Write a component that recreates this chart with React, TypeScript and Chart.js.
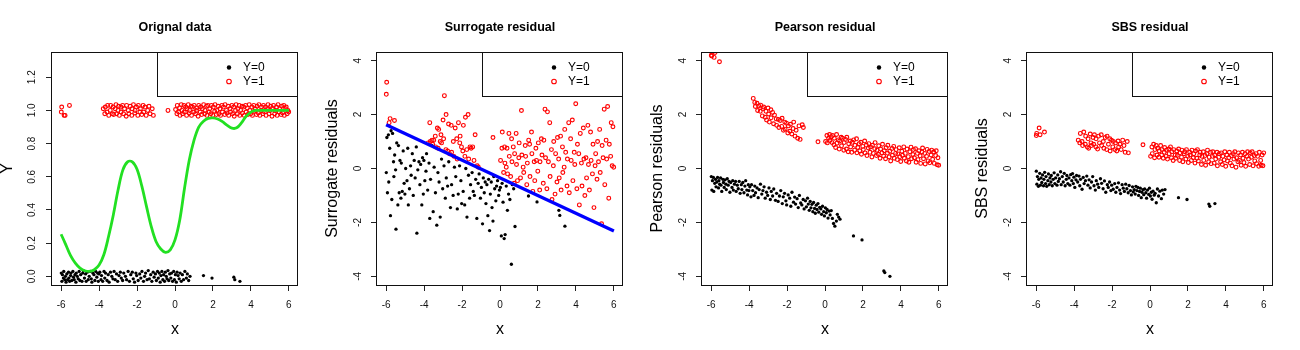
import React, { useEffect, useRef } from "react";
import { Chart, registerables } from "chart.js";

Chart.register(...registerables);

const FONT = '"Liberation Sans", Arial, Helvetica, sans-serif';

// ---------- labels / ticks ----------
const panelTitles = ["Orignal data", "Surrogate residual", "Pearson residual", "SBS residual"];
const yAxisLabels = ["Y", "Surrogate residuals", "Pearson residuals", "SBS residuals"];
const xAxisLabel = "x";
const legendLabels = ["Y=0", "Y=1"];
const xTicks = [-6, -4, -2, 0, 2, 4, 6];
const probTicks = [0, 0.2, 0.4, 0.6, 0.8, 1.0, 1.2];
const residTicks = [-4, -2, 0, 2, 4];

// ---------- observations with Y=0 (x values shared by all panels) ----------
const x0 = [
  -5.99, -5.96, -5.93, -5.88, -5.86, -5.81, -5.77, -5.74, -5.7, -5.66,
  -5.61, -5.59, -5.55, -5.5, -5.48, -5.44, -5.38, -5.35, -5.31, -5.27,
  -5.22, -5.2, -5.15, -5.1, -5.05, -5.01, -4.97, -4.9, -4.86, -4.83,
  -4.77, -4.71, -4.68, -4.62, -4.57, -4.52, -4.47, -4.41, -4.38, -4.33,
  -4.27, -4.22, -4.18, -4.12, -4.08, -4.04, -4.01, -3.96, -3.9, -3.87,
  -3.81, -3.74, -3.7, -3.66, -3.58, -3.52, -3.47, -3.4, -3.33, -3.27,
  -3.21, -3.15, -3.08, -3.02, -2.95, -2.88, -2.83, -2.76, -2.7, -2.61,
  -2.55, -2.47, -2.4, -2.33, -2.25, -2.2, -2.13, -2.06, -2.02, -1.94,
  -1.86, -1.8, -1.74, -1.66, -1.6, -1.55, -1.47, -1.41, -1.35, -1.28,
  -1.22, -1.15, -1.1, -1.03, -0.98, -0.92, -0.88, -0.83, -0.78, -0.74,
  -0.69, -0.64, -0.6, -0.55, -0.51, -0.46, -0.42, -0.37, -0.33, -0.28,
  -0.22, -0.18, -0.13, -0.07, -0.03, 0.02, 0.07, 0.11, 0.16, 0.22,
  0.27, 0.33, 0.39, 0.45, 0.52, 0.6, 0.65, 0.72, 0.79, 1.5,
  1.95, 3.1, 3.15, 3.42,
];
const orig0 = [
  0.02, -0.03, 0.01, -0.01, 0.03, -0.02, 0.0, -0.035, 0.015, -0.02,
  0.025, -0.01, -0.03, 0.005, 0.02, -0.025, 0.03, -0.005, -0.02, 0.01,
  -0.035, 0.02, 0.0, -0.015, 0.03, -0.025, 0.01, -0.03, 0.02, 0.035,
  -0.01, 0.015, -0.03, 0.025, -0.02, 0.0, 0.03, -0.015, -0.035, 0.02,
  0.01, -0.025, 0.03, -0.005, 0.02, -0.03, 0.015, 0.025, -0.02, 0.005,
  -0.03, 0.03, -0.01, 0.02, -0.025, 0.01, -0.035, 0.025, 0.0, -0.015,
  0.03, -0.02, 0.015, -0.03, 0.005, 0.025, -0.01, -0.025, 0.02, 0.0,
  -0.02, 0.03, -0.03, 0.01, 0.025, -0.015, -0.035, 0.02, 0.005, -0.025,
  0.015, -0.01, 0.03, -0.03, 0.0, 0.02, -0.02, 0.035, -0.015, 0.01,
  -0.03, 0.025, -0.005, 0.015, -0.025, 0.03, -0.01, 0.02, -0.035, 0.005,
  0.03, -0.02, 0.01, -0.03, 0.025, 0.0, -0.015, 0.035, -0.025, 0.015,
  -0.01, 0.02, -0.03, 0.03, -0.02, 0.01, -0.035, 0.025, 0.005, -0.015,
  0.02, -0.03, 0.01, -0.02, 0.03, -0.01, 0.015, -0.025, 0.0, 0.005,
  -0.01, -0.005, -0.02, -0.03,
];
const surr0 = [
  -0.15, 1.15, -0.9, 1.25, -0.5, 0.75, -1.75, 1.4, -1.15, 1.3,
  0.25, -0.3, 0.5, -0.05, -2.25, 0.95, -1.35, 0.85, -0.9, 0.3,
  -1.1, 0.2, -0.85, 0.65, -0.55, -0.95, 0.0, -0.45, 0.75, -1.35,
  -0.75, 0.1, -0.25, 0.55, -1.0, 0.3, -0.35, 0.8, -2.4, -0.05,
  0.25, -0.6, 0.15, -1.35, 0.4, -0.95, 0.3, -0.45, -0.1, 0.55,
  -0.8, 0.2, -1.85, -0.4, 0.85, -1.6, 0.05, -0.9, -2.1, -0.15,
  -0.5, -1.8, 0.35, -0.75, 0.1, -1.1, -0.35, -0.65, 0.25, -1.45,
  -0.6, -1.0, 0.05, -0.3, -1.5, -0.95, 0.1, -0.45, -1.3, -0.85,
  -1.35, 0.0, -1.8, -0.25, -1.1, -0.6, -0.15, -0.85, -1.0, -0.4,
  -1.85, -0.55, -0.2, -1.1, -0.7, -2.05, -0.35, -0.9, -0.5, -1.3,
  -0.6, -1.75, -0.4, -2.3, -0.95, -0.5, -1.45, -1.95, -0.3, -0.75,
  -1.2, -0.65, -0.45, -1.0, -0.8, -0.7, -2.5, -0.55, -1.25, -2.6,
  -2.45, -0.65, -1.55, -0.95, -1.15, -3.55, -0.6, -0.75, -2.15, -1.02,
  -1.24, -1.55, -1.74, -2.14,
];
const pear0 = [
  -0.3, -0.8, -0.45, -0.33, -0.85, -0.55, -0.4, -0.68, -0.5, -0.33,
  -0.72, -0.45, -0.58, -0.35, -0.62, -0.85, -0.4, -0.52, -0.7, -0.42,
  -0.58, -0.78, -0.38, -0.62, -0.48, -0.88, -0.52, -0.7, -0.45, -0.8,
  -0.58, -0.48, -0.85, -0.62, -0.75, -0.48, -0.92, -0.6, -0.78, -0.52,
  -0.9, -0.65, -0.45, -0.8, -0.98, -0.6, -0.82, -0.68, -1.05, -0.6,
  -0.82, -1.0, -0.65, -0.9, -0.72, -1.08, -0.78, -0.58, -0.95, -0.82,
  -0.68, -1.1, -0.88, -1.0, -0.72, -1.15, -0.85, -1.02, -0.76, -1.18,
  -0.92, -1.22, -1.02, -0.82, -1.3, -1.05, -0.92, -1.2, -1.35, -0.98,
  -1.1, -1.4, -0.88, -1.25, -1.06, -1.32, -1.12, -1.45, -1.0, -1.28,
  -1.35, -1.15, -1.5, -1.2, -1.42, -1.1, -1.32, -1.55, -1.22, -1.46,
  -1.33, -1.6, -1.26, -1.48, -1.66, -1.36, -1.52, -1.3, -1.62, -1.44,
  -1.5, -1.7, -1.4, -1.6, -1.76, -1.46, -1.64, -1.52, -1.84, -1.58,
  -1.72, -1.56, -1.85, -2.04, -2.14, -1.95, -1.7, -1.8, -1.88, -2.5,
  -2.65, -3.8, -3.86, -4.0,
];
const sbs0 = [
  -0.1, -0.58, -0.3, -0.66, -0.4, -0.18, -0.62, -0.35, -0.52, -0.24,
  -0.64, -0.4, -0.14, -0.56, -0.3, -0.66, -0.45, -0.2, -0.6, -0.35,
  -0.5, -0.26, -0.64, -0.4, -0.16, -0.56, -0.35, -0.62, -0.24, -0.48,
  -0.38, -0.12, -0.6, -0.3, -0.5, -0.18, -0.64, -0.4, -0.26, -0.56,
  -0.35, -0.62, -0.23, -0.45, -0.19, -0.56, -0.32, -0.7, -0.42, -0.26,
  -0.5, -0.28, -0.64, -0.4, -0.77, -0.33, -0.56, -0.45, -0.28, -0.62,
  -0.42, -0.72, -0.5, -0.3, -0.64, -0.8, -0.45, -0.58, -0.7, -0.38,
  -0.55, -0.75, -0.46, -0.88, -0.6, -0.7, -0.5, -0.82, -0.62, -0.77,
  -0.56, -0.88, -0.7, -0.53, -0.8, -0.93, -0.6, -0.73, -0.85, -0.58,
  -0.75, -0.9, -0.63, -0.82, -0.98, -0.68, -0.87, -0.78, -0.95, -0.66,
  -0.82, -0.7, -1.0, -0.85, -0.73, -1.08, -0.88, -0.78, -0.97, -0.76,
  -0.9, -1.1, -0.8, -0.96, -0.73, -1.02, -0.88, -1.14, -0.84, -0.99,
  -0.92, -1.27, -0.76, -1.02, -0.84, -1.12, -0.8, -0.95, -0.78, -1.08,
  -1.15, -1.32, -1.4, -1.3,
];

// ---------- observations with Y=1 ----------
const x1 = [
  -5.97, -5.84, -5.79, -5.56, -3.78, -3.7, -3.67, -3.58, -3.55, -3.49,
  -3.41, -3.39, -3.3, -3.26, -3.23, -3.15, -3.11, -3.08, -3.0, -2.97,
  -2.93, -2.85, -2.84, -2.76, -2.71, -2.66, -2.57, -2.55, -2.46, -2.43,
  -2.36, -2.28, -2.26, -2.19, -2.12, -2.1, -2.03, -1.96, -1.93, -1.85,
  -1.82, -1.75, -1.68, -1.65, -1.58, -1.52, -1.44, -1.37, -1.31, -1.2,
  -1.14, -0.37, 0.03, 0.1, 0.12, 0.19, 0.24, 0.26, 0.33, 0.37,
  0.4, 0.47, 0.49, 0.56, 0.61, 0.63, 0.7, 0.75, 0.77, 0.85,
  0.87, 0.92, 0.99, 1.01, 1.08, 1.13, 1.15, 1.22, 1.25, 1.33,
  1.35, 1.41, 1.44, 1.51, 1.56, 1.58, 1.66, 1.68, 1.73, 1.8,
  1.83, 1.89, 1.92, 1.99, 2.02, 2.09, 2.11, 2.18, 2.21, 2.28,
  2.31, 2.37, 2.4, 2.47, 2.5, 2.55, 2.62, 2.64, 2.71, 2.74,
  2.81, 2.83, 2.9, 2.93, 3.0, 3.03, 3.09, 3.12, 3.19, 3.22,
  3.29, 3.31, 3.38, 3.41, 3.46, 3.53, 3.55, 3.62, 3.65, 3.72,
  3.75, 3.81, 3.84, 3.91, 3.94, 3.99, 4.05, 4.08, 4.15, 4.18,
  4.23, 4.29, 4.32, 4.39, 4.42, 4.47, 4.53, 4.56, 4.63, 4.66,
  4.71, 4.77, 4.8, 4.87, 4.9, 4.95, 5.01, 5.04, 5.11, 5.14,
  5.19, 5.25, 5.28, 5.35, 5.38, 5.43, 5.49, 5.52, 5.59, 5.62,
  5.67, 5.73, 5.76, 5.83, 5.86, 5.91, 5.95, 5.99, -5.99,
];
const orig1 = [
  1.02, 0.97, 0.97, 1.03, 1.01, 0.98, 1.02, 0.99, 1.03, 0.97,
  1.0, 1.03, 0.98, 1.02, 0.975, 1.01, 1.035, 0.98, 1.0, 1.025,
  0.97, 1.02, 0.99, 1.03, 0.98, 1.01, 0.965, 1.03, 1.0, 0.98,
  1.025, 0.97, 1.01, 1.035, 0.985, 1.0, 1.02, 0.97, 1.03, 0.99,
  1.01, 0.975, 1.03, 0.99, 1.02, 0.97, 1.0, 1.025, 0.98, 1.01,
  0.97, 1.0, 1.005, 0.98, 1.03, 0.99, 1.015, 0.97, 1.035, 1.0,
  0.98, 1.03, 0.99, 1.02, 0.97, 1.01, 1.035, 0.985, 1.0, 1.025,
  0.97, 1.02, 0.99, 1.03, 0.98, 1.0, 1.015, 0.965, 1.03, 0.99,
  1.02, 0.975, 1.01, 1.035, 0.98, 1.0, 1.025, 0.97, 1.03, 0.99,
  1.01, 0.98, 1.03, 0.97, 1.02, 0.995, 1.035, 0.975, 1.0, 1.025,
  0.98, 1.01, 0.97, 1.03, 0.99, 1.02, 0.975, 1.035, 1.0, 0.985,
  1.025, 0.97, 1.01, 0.99, 1.03, 0.98, 1.02, 0.965, 1.0, 1.035,
  0.98, 1.01, 1.03, 0.97, 1.0, 1.025, 0.985, 1.02, 0.97, 1.03,
  0.99, 1.015, 0.975, 1.035, 1.0, 0.98, 1.02, 0.97, 1.03, 0.995,
  1.01, 0.975, 1.025, 0.985, 1.035, 0.97, 1.0, 1.02, 0.98, 1.03,
  0.99, 1.02, 0.97, 1.01, 1.035, 0.98, 1.0, 1.025, 0.965, 1.015,
  1.03, 0.98, 1.0, 1.02, 0.97, 1.035, 0.99, 1.01, 0.975, 1.025,
  0.985, 1.03, 0.97, 1.01, 1.02, 0.98, 1.0, 0.99, 0.99,
];
const surr1 = [
  3.2, 1.7, 1.85, 1.78, 0.95, 1.7, 1.0, 1.05, 0.9, 1.05,
  1.2, 0.8, 1.5, 0.75, 1.45, 1.0, 1.25, 0.95, 1.8, 1.1,
  2.7, 0.7, 2.0, 0.65, 1.65, 0.55, 1.6, 0.6, 1.0, 0.45,
  1.5, 1.1, 0.35, 1.7, 0.95, 1.2, 0.8, 0.65, 1.6, 0.45,
  1.9, 0.7, 2.0, 0.35, 0.8, 0.75, 0.8, 0.3, 1.25, 0.1,
  0.05, 1.15, 0.3, 0.75, 1.35, -0.15, 0.8, 0.2, 0.05, 0.75,
  -0.2, 1.3, 0.45, -0.3, 1.1, 0.25, 0.8, -0.55, 0.55, 1.3,
  0.15, -0.45, 0.4, 0.95, -0.35, 2.15, 0.5, 0.05, -0.15, 0.85,
  0.45, -0.6, 0.2, 1.05, 0.9, -0.3, 1.35, 0.55, -0.85, 0.25,
  -0.45, 0.75, 0.3, -0.1, 0.95, -0.8, 0.25, 1.1, 0.5, -0.55,
  1.05, 2.2, 0.4, -0.75, 2.1, 0.25, 1.7, -0.3, 0.7, -1.15,
  0.1, 1.0, -0.95, 0.55, -0.5, 1.15, 0.35, -0.35, 1.2, -0.8,
  0.8, -0.15, 0.05, 1.45, 0.6, -0.65, 0.35, 1.7, -0.9, 1.1,
  0.3, 1.8, -0.45, 0.6, 0.15, 2.4, -0.75, 0.9, 0.55, -1.35,
  1.3, 0.2, -0.65, 1.5, 0.35, -1.0, 0.4, -0.35, 1.6, 0.15,
  -0.8, 1.35, 0.3, -0.2, 0.9, -1.45, 0.1, 0.55, -0.4, 1.0,
  0.25, 1.45, -0.15, -2.05, 0.85, 0.4, 2.2, -0.6, 1.05, 0.35,
  2.3, -1.1, 0.9, 0.45, 1.7, 0.1, 1.55, 0.05, 2.75,
];
const pear1 = [
  4.17, 4.12, 4.3, 3.96, 2.6, 2.45, 2.3, 2.42, 2.15, 2.32,
  2.12, 2.35, 1.95, 2.22, 2.28, 1.9, 2.12, 1.8, 2.24, 2.02,
  1.72, 2.18, 1.88, 2.08, 1.66, 1.98, 1.84, 1.6, 1.82, 1.52,
  1.78, 1.56, 1.86, 1.42, 1.72, 1.46, 1.68, 1.32, 1.58, 1.38,
  1.64, 1.28, 1.48, 1.72, 1.2, 1.42, 1.12, 1.58, 1.08, 1.62,
  1.52, 0.99, 1.0, 1.22, 0.95, 1.12, 1.26, 1.04, 1.18, 0.96,
  1.22, 0.88, 1.12, 0.78, 1.26, 0.94, 1.06, 0.72, 1.02, 1.16,
  0.84, 1.12, 0.68, 0.96, 1.08, 0.72, 1.16, 0.62, 0.92, 1.02,
  0.8, 0.6, 0.97, 1.06, 0.68, 0.86, 1.1, 0.58, 0.78, 0.92,
  0.66, 0.97, 0.53, 0.82, 0.7, 1.02, 0.58, 0.86, 0.48, 0.76,
  0.92, 0.6, 0.8, 0.43, 0.86, 0.56, 0.73, 0.96, 0.48, 0.68,
  0.53, 0.84, 0.38, 0.72, 0.58, 0.9, 0.46, 0.66, 0.36, 0.77,
  0.57, 0.86, 0.43, 0.64, 0.28, 0.74, 0.49, 0.82, 0.38, 0.56,
  0.7, 0.33, 0.54, 0.77, 0.44, 0.26, 0.64, 0.49, 0.8, 0.38,
  0.56, 0.28, 0.72, 0.44, 0.23, 0.62, 0.79, 0.36, 0.52, 0.7,
  0.4, 0.73, 0.23, 0.56, 0.33, 0.66, 0.47, 0.19, 0.61, 0.76,
  0.36, 0.56, 0.17, 0.45, 0.71, 0.28, 0.63, 0.21, 0.5, 0.68,
  0.34, 0.61, 0.19, 0.48, 0.66, 0.14, 0.4, 0.12, 4.2,
];
const sbs1 = [
  1.3, 1.5, 1.25, 1.35, 1.05, 0.95, 1.3, 1.0, 0.85, 1.35,
  0.9, 1.2, 0.8, 1.1, 0.75, 1.28, 0.95, 0.85, 1.15, 0.9,
  1.25, 0.8, 1.1, 0.72, 1.2, 0.95, 1.25, 0.85, 1.0, 0.75,
  1.15, 0.7, 1.2, 0.9, 1.1, 0.65, 1.05, 0.8, 1.0, 0.7,
  0.95, 0.65, 1.02, 0.8, 0.9, 0.7, 1.05, 0.85, 0.6, 1.0,
  0.58, 0.88, 0.45, 0.8, 0.55, 0.9, 0.4, 0.7, 0.85, 0.5,
  0.75, 0.42, 0.65, 0.85, 0.5, 0.7, 0.38, 0.6, 0.78, 0.45,
  0.68, 0.35, 0.72, 0.55, 0.8, 0.4, 0.62, 0.3, 0.7, 0.5,
  0.38, 0.65, 0.48, 0.72, 0.3, 0.58, 0.42, 0.68, 0.25, 0.55,
  0.62, 0.35, 0.7, 0.45, 0.22, 0.6, 0.5, 0.3, 0.68, 0.4,
  0.55, 0.2, 0.65, 0.38, 0.7, 0.28, 0.5, 0.6, 0.15, 0.45,
  0.62, 0.3, 0.48, 0.12, 0.55, 0.68, 0.25, 0.42, 0.6, 0.18,
  0.45, 0.62, 0.2, 0.5, 0.35, 0.6, 0.1, 0.42, 0.55, 0.25,
  0.58, 0.15, 0.45, 0.32, 0.62, 0.08, 0.5, 0.28, 0.4, 0.6,
  0.2, 0.48, 0.1, 0.55, 0.35, 0.62, 0.05, 0.4, 0.25, 0.58,
  0.3, 0.5, 0.12, 0.6, 0.38, 0.22, 0.55, 0.08, 0.45, 0.62,
  0.35, 0.15, 0.58, 0.42, 0.62, 0.1, 0.48, 0.28, 0.55, 0.18,
  0.45, 0.08, 0.6, 0.3, 0.12, 0.5, 0.1, 0.58, 1.22,
];

// ---------- fitted curve (panel 1) and fitted line (panel 2) ----------
const curveX = [
  -6, -5.75, -5.5, -5.25, -5, -4.75, -4.5, -4.25, -4, -3.75, -3.5, -3.25, -3, -2.75, -2.5, -2.25,
  -2, -1.75, -1.5, -1.25, -1, -0.75, -0.5, -0.25, 0, 0.25, 0.5, 0.75, 1, 1.25, 1.5, 1.75,
  2, 2.25, 2.5, 2.75, 3, 3.25, 3.5, 3.75, 4, 4.25, 4.5, 5, 5.5, 6,
];
const curveY = [
  0.254, 0.19, 0.125, 0.08, 0.05, 0.034, 0.03, 0.04, 0.068, 0.13, 0.24, 0.37, 0.52, 0.64, 0.69, 0.69,
  0.645, 0.545, 0.42, 0.3, 0.21, 0.165, 0.145, 0.16, 0.22, 0.34, 0.53, 0.7, 0.82, 0.9, 0.935, 0.952,
  0.955, 0.948, 0.932, 0.91, 0.893, 0.895, 0.925, 0.965, 0.99, 1.0, 1.0, 1.0, 1.0, 1.0,
];
const fitLineX = [-6, 6];
const fitLineY = [1.62, -2.32];

type LineSpec = { xs: number[]; ys: number[]; color: string; width: number; tension: number };
type PanelSpec = {
  title: string;
  ylab: string;
  y0: number[];
  y1: number[];
  yMin: number;
  yMax: number;
  yTicks: number[];
  decimals: boolean;
  tickPad: number;
  line?: LineSpec;
};

const panels: PanelSpec[] = [
  {
    title: panelTitles[0], ylab: yAxisLabels[0], y0: orig0, y1: orig1,
    yMin: -0.052, yMax: 1.352, yTicks: probTicks, decimals: true, tickPad: 6.5,
    line: { xs: curveX, ys: curveY, color: "#22e022", width: 2.8, tension: 0.35 },
  },
  {
    title: panelTitles[1], ylab: yAxisLabels[1], y0: surr0, y1: surr1,
    yMin: -4.32, yMax: 4.32, yTicks: residTicks, decimals: false, tickPad: 8.5,
    line: { xs: fitLineX, ys: fitLineY, color: "#0000ff", width: 3.3, tension: 0 },
  },
  {
    title: panelTitles[2], ylab: yAxisLabels[2], y0: pear0, y1: pear1,
    yMin: -4.32, yMax: 4.32, yTicks: residTicks, decimals: false, tickPad: 8.5,
  },
  {
    title: panelTitles[3], ylab: yAxisLabels[3], y0: sbs0, y1: sbs1,
    yMin: -4.32, yMax: 4.32, yTicks: residTicks, decimals: false, tickPad: 8.5,
  },
];

const W = 325;
const H = 350;

function makeDecor(spec: PanelSpec) {
  return {
    id: "decor",
    afterDraw(chart: any) {
      const { ctx, chartArea: ca } = chart;
      const L = Math.round(ca.left);
      const T = Math.round(ca.top);
      const R = Math.round(ca.right);
      const B = Math.round(ca.bottom);
      ctx.save();
      // legend box
      const lx = R - 141;
      const lb = T + 44;
      ctx.fillStyle = "#ffffff";
      ctx.fillRect(lx, T, R - lx, lb - T);
      ctx.strokeStyle = "#111";
      ctx.lineWidth = 1;
      ctx.strokeRect(lx + 0.5, T + 0.5, R - lx - 1, lb - T);
      // plot box
      ctx.strokeRect(L - 0.5, T + 0.5, R - L, B - T);
      // legend entries
      const sx = R - 69;
      const ty0 = T + 15.5;
      const ty1 = T + 29.5;
      ctx.fillStyle = "#000";
      ctx.beginPath();
      ctx.arc(sx, ty0, 2.2, 0, Math.PI * 2);
      ctx.fill();
      ctx.strokeStyle = "#ff0000";
      ctx.lineWidth = 1.1;
      ctx.beginPath();
      ctx.arc(sx, ty1, 2.3, 0, Math.PI * 2);
      ctx.stroke();
      ctx.fillStyle = "#000";
      ctx.font = `12px ${FONT}`;
      ctx.textAlign = "left";
      ctx.textBaseline = "middle";
      ctx.fillText(legendLabels[0], R - 55, ty0);
      ctx.fillText(legendLabels[1], R - 55, ty1);
      // title
      ctx.font = `bold 12.5px ${FONT}`;
      ctx.textAlign = "center";
      ctx.textBaseline = "alphabetic";
      ctx.fillText(spec.title, (L + R) / 2, 31);
      // x label
      ctx.font = `16px ${FONT}`;
      ctx.fillText(xAxisLabel, (L + R) / 2, 334);
      // y label
      ctx.translate(12, (T + B) / 2);
      ctx.rotate(-Math.PI / 2);
      ctx.fillText(spec.ylab, 0, 0);
      ctx.restore();
    },
  };
}

function Panel({ spec }: { spec: PanelSpec }) {
  const ref = useRef<HTMLCanvasElement>(null);
  useEffect(() => {
    const canvas = ref.current;
    if (!canvas) return;
    const black = x0.map((x, i) => ({ x, y: spec.y0[i] }));
    const red = x1.map((x, i) => ({ x, y: spec.y1[i] }));
    const datasets: any[] = [];
    if (spec.line) {
      const ln = spec.line;
      datasets.push({
        data: ln.xs.map((x, i) => ({ x, y: ln.ys[i] })),
        showLine: true,
        borderColor: ln.color,
        borderWidth: ln.width,
        pointRadius: 0,
        tension: ln.tension,
        fill: false,
      });
    }
    datasets.push({
      data: red,
      pointRadius: 1.9,
      backgroundColor: "rgba(0,0,0,0)",
      borderColor: "#ff0000",
      borderWidth: 1.15,
      showLine: false,
    });
    datasets.push({
      data: black,
      pointRadius: 1.65,
      backgroundColor: "#000000",
      borderColor: "#000000",
      borderWidth: 0,
      showLine: false,
    });
    const tickFont = { family: FONT, size: 10 };
    const chart = new Chart(canvas, {
      type: "scatter",
      data: { datasets },
      options: {
        responsive: false,
        maintainAspectRatio: false,
        animation: false,
        devicePixelRatio: 1,
        layout: { padding: { left: 0, top: 52, right: W - 298, bottom: 0 } },
        plugins: { legend: { display: false }, tooltip: { enabled: false }, title: { display: false } },
        scales: {
          x: {
            type: "linear",
            min: -6.48,
            max: 6.48,
            afterBuildTicks: (s: any) => {
              s.ticks = xTicks.map((v) => ({ value: v }));
            },
            afterFit: (s: any) => {
              s.height = H - 285;
            },
            grid: { drawOnChartArea: false, drawTicks: true, tickLength: 6, color: "#222", lineWidth: 1 },
            border: { display: false },
            ticks: {
              font: tickFont,
              color: "#111",
              padding: 8,
              minRotation: 0,
              maxRotation: 0,
              autoSkip: false,
              callback: (v: any) => String(v),
            },
          },
          y: {
            type: "linear",
            min: spec.yMin,
            max: spec.yMax,
            afterBuildTicks: (s: any) => {
              s.ticks = spec.yTicks.map((v) => ({ value: v }));
            },
            afterFit: (s: any) => {
              s.width = 52;
            },
            grid: { drawOnChartArea: false, drawTicks: true, tickLength: 6, color: "#222", lineWidth: 1 },
            border: { display: false },
            ticks: {
              font: tickFont,
              color: "#111",
              padding: spec.tickPad,
              minRotation: 90,
              maxRotation: 90,
              crossAlign: "center",
              autoSkip: false,
              callback: (v: any) => (spec.decimals ? Number(v).toFixed(1) : String(v)),
            },
          },
        },
      } as any,
      plugins: [makeDecor(spec)],
    });
    return () => chart.destroy();
  }, [spec]);
  return <canvas ref={ref} width={W} height={H} style={{ display: "block", width: W, height: H }} />;
}

export default function App() {
  return (
    <div
      style={{
        position: "fixed",
        left: 0,
        top: 0,
        width: 1300,
        height: 350,
        display: "flex",
        background: "#ffffff",
      }}
    >
      {panels.map((p, i) => (
        <Panel key={i} spec={p} />
      ))}
    </div>
  );
}
